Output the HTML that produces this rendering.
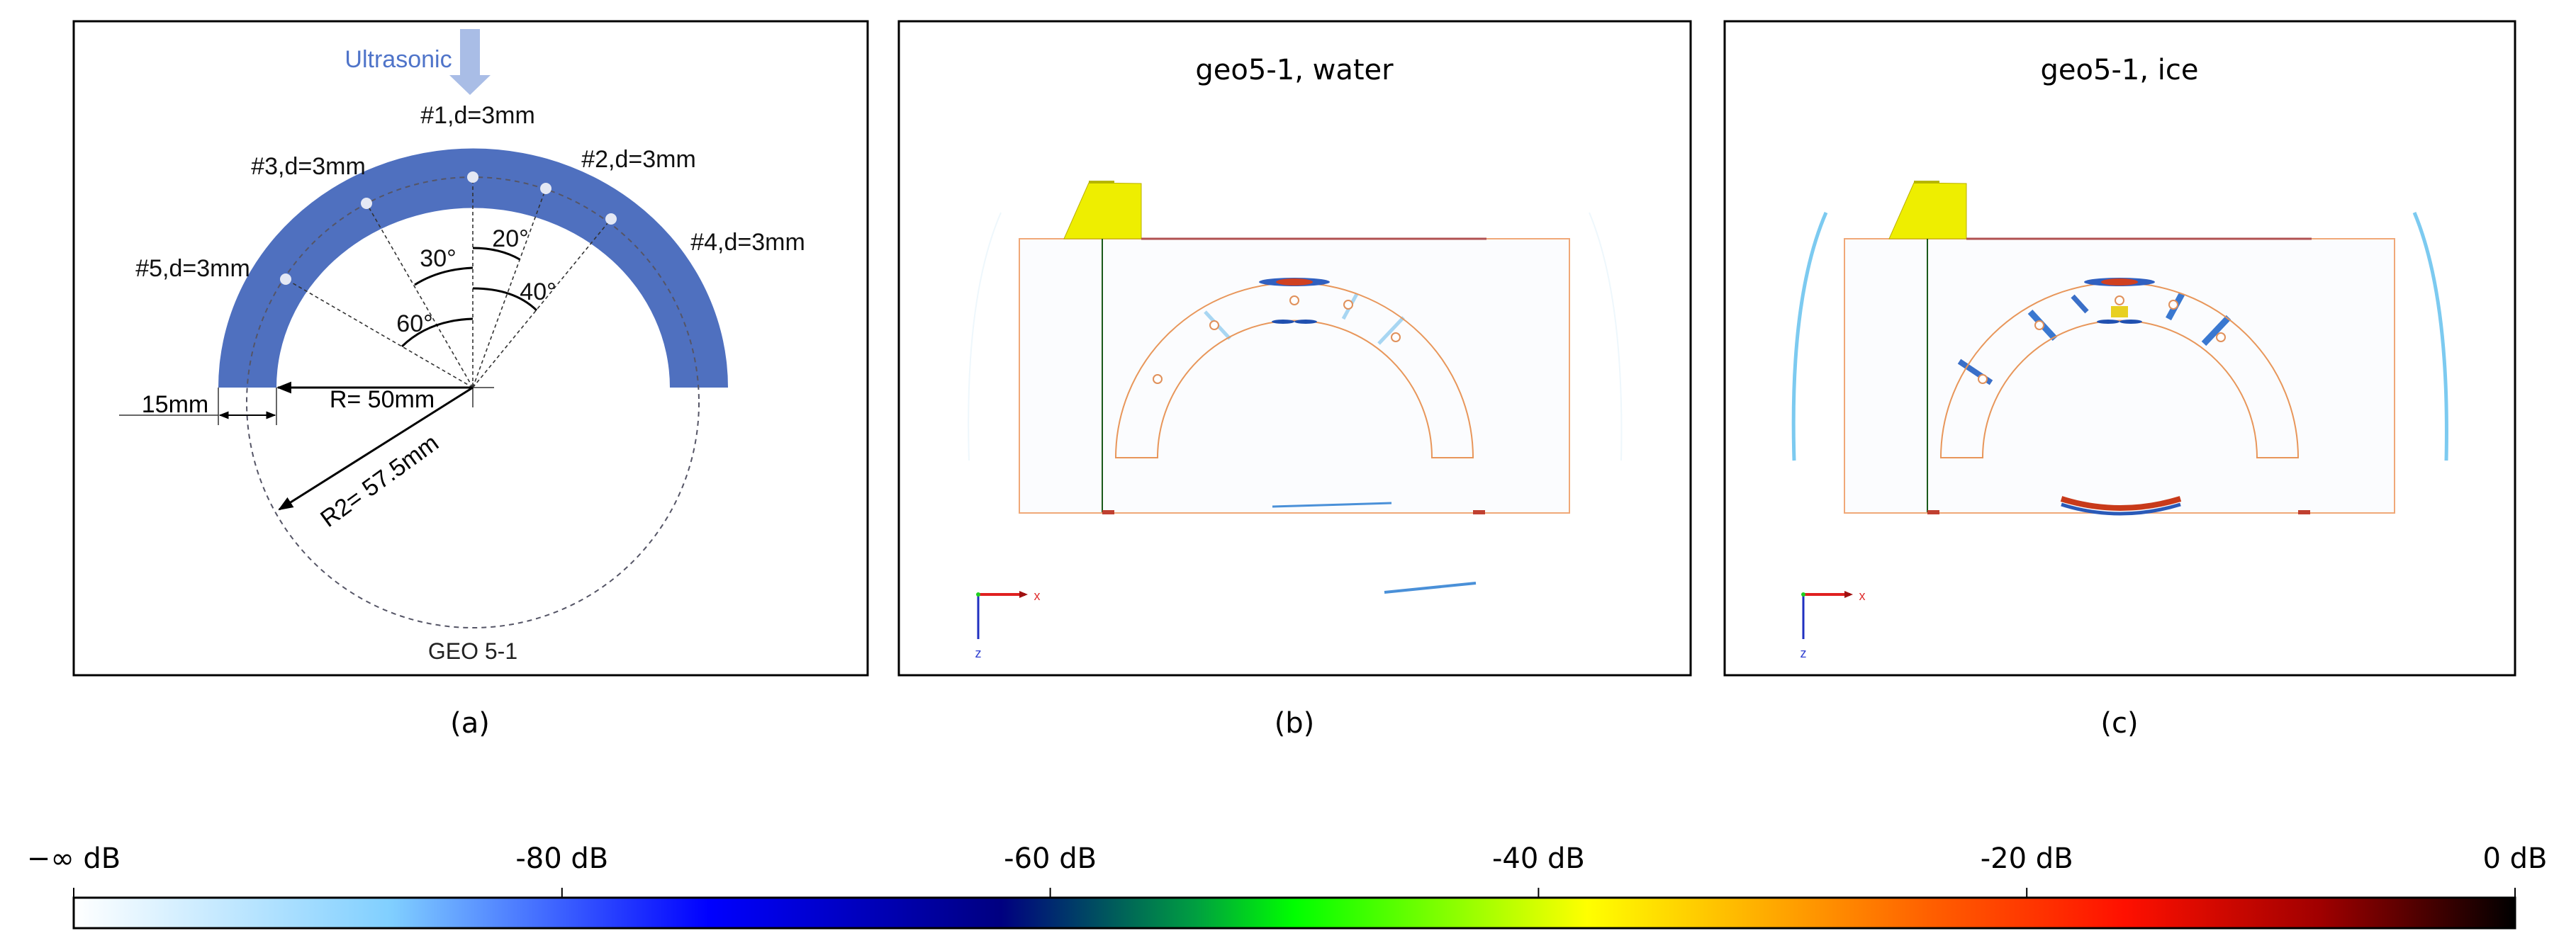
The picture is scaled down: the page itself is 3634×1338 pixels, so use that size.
<!DOCTYPE html>
<html><head><meta charset="utf-8">
<style>
html,body{margin:0;padding:0;background:#fff;}
svg{display:block;}
.a{font-family:"Liberation Sans","Noto Sans CJK SC",sans-serif;}
.d{font-family:"DejaVu Sans","Liberation Sans",sans-serif;}
</style></head>
<body>
<svg id="fig" width="3634" height="1338" viewBox="0 0 3634 1338" xmlns="http://www.w3.org/2000/svg">
<defs>
<linearGradient id="cmap" x1="0" x2="1" y1="0" y2="0"></linearGradient>
<marker id="ah" viewBox="0 0 10 10" refX="9" refY="5" markerWidth="7" markerHeight="7" orient="auto-start-reverse"><path d="M0,1 L10,5 L0,9 z" fill="#000"/></marker>
</defs>

<!-- Panel (a) -->
<g>
<rect x="104" y="30" width="1120" height="923" fill="#fff" stroke="#000" stroke-width="3"/>
<rect x="649" y="41" width="28" height="70" fill="#a9bde6"/>
<polygon points="634,106 692,106 663,134" fill="#a9bde6"/>
<text x="562" y="95" class="a" font-size="34" fill="#4f74c9" text-anchor="middle">Ultrasonic</text>
<path d="M308,547 A359,337 0 0 1 1027,547 L945,547 A277,253 0 0 0 390,547 Z" fill="#4f70bf"/>
<ellipse cx="667" cy="568" rx="319" ry="318" fill="none" stroke="#556" stroke-width="2" stroke-dasharray="7,6"/>
<g stroke="#333" stroke-width="1.6" stroke-dasharray="5,4" fill="none">
<line x1="667" y1="547" x2="667" y2="250"/>
<line x1="667" y1="547" x2="770" y2="266"/>
<line x1="667" y1="547" x2="862" y2="309"/>
<line x1="667" y1="547" x2="517" y2="287"/>
<line x1="667" y1="547" x2="403" y2="394"/>
</g>
<g fill="#e4e8f4">
<circle cx="667" cy="250" r="8"/><circle cx="770" cy="266" r="8"/><circle cx="862" cy="309" r="8"/><circle cx="517" cy="287" r="8"/><circle cx="403" cy="394" r="8"/>
</g>
<g fill="none" stroke="#000" stroke-width="3">
<path d="M667,378 Q620,380 585,402"/>
<path d="M667,350 Q705,350 733,366"/>
<path d="M667,407 Q725,407 757,438"/>
<path d="M667,450 Q605,452 567,489"/>
</g>
<g class="a" font-size="34" fill="#111" text-anchor="middle">
<text x="674" y="174">#1,d=3mm</text>
<text x="435" y="246">#3,d=3mm</text>
<text x="901" y="236">#2,d=3mm</text>
<text x="1055" y="353">#4,d=3mm</text>
<text x="272" y="390">#5,d=3mm</text>
<text x="618" y="376">30°</text>
<text x="720" y="348">20°</text>
<text x="759" y="423">40°</text>
<text x="585" y="468">60°</text>
</g>
<line x1="667" y1="547" x2="392" y2="547" stroke="#000" stroke-width="3" marker-end="url(#ah)"/>
<line x1="667" y1="547" x2="697" y2="547" stroke="#333" stroke-width="1.5"/>
<line x1="667" y1="540" x2="667" y2="575" stroke="#333" stroke-width="1.5"/>
<text x="539" y="575" class="a" font-size="34" text-anchor="middle">R= 50mm</text>
<line x1="308" y1="547" x2="308" y2="600" stroke="#333" stroke-width="1.5"/>
<line x1="390" y1="547" x2="390" y2="600" stroke="#333" stroke-width="1.5"/>
<line x1="168" y1="586" x2="308" y2="586" stroke="#333" stroke-width="1.5"/>
<line x1="310" y1="586" x2="388" y2="586" stroke="#000" stroke-width="2" marker-start="url(#ah)" marker-end="url(#ah)"/>
<text x="247" y="582" class="a" font-size="34" text-anchor="middle">15mm</text>
<line x1="667" y1="547" x2="394" y2="719" stroke="#000" stroke-width="3" marker-end="url(#ah)"/>
<text x="535" y="690" class="a" font-size="34" text-anchor="middle" transform="rotate(-36 535 678)">R2= 57.5mm</text>
<text x="667" y="930" class="a" font-size="32" text-anchor="middle" fill="#222">GEO 5-1</text>
</g>

<!-- Panel (b) -->
<g>
<rect x="1268" y="30" width="1117" height="923" fill="#fff" stroke="#000" stroke-width="3"/>
<text x="1826" y="112" class="d" font-size="40" text-anchor="middle">geo5-1, water</text>
<g id="simB"></g>
</g>

<!-- Panel (c) -->
<g>
<rect x="2433" y="30" width="1115" height="923" fill="#fff" stroke="#000" stroke-width="3"/>
<text x="2990" y="112" class="d" font-size="40" text-anchor="middle">geo5-1, ice</text>
<g id="simC"></g>
</g>

<g class="d" font-size="40" text-anchor="middle">
<text x="663" y="1034">(a)</text>
<text x="1826" y="1034">(b)</text>
<text x="2990" y="1034">(c)</text>
</g>

<g id="cbar"></g>
</svg>
<script>
const tickLabels = ["\u2212\u221e dB","-80 dB","-60 dB","-40 dB","-20 dB","0 dB"];
const tickValues = [-100,-80,-60,-40,-20,0];
const stopOffsets = [0,0.13,0.26,0.38,0.46,0.5,0.62,0.76,0.84,0.92,1];
const stopColors = ["#ffffff","#80cfff","#0000ff","#000080","#00a040","#00ff00","#ffff00","#ff6000","#ff1000","#a00000","#000000"];

const NS="http://www.w3.org/2000/svg";
function mk(tag,attrs,parent){const e=document.createElementNS(NS,tag);for(const k in attrs)e.setAttribute(k,attrs[k]);parent.appendChild(e);return e;}

// colorbar
const grad=document.getElementById('cmap');
stopOffsets.forEach((o,i)=>{mk('stop',{offset:o,'stop-color':stopColors[i]},grad);});
const cb=document.getElementById('cbar');
const x0=104,x1=3548,y0=1267,y1=1310;
const xs=v=>x0+(v-tickValues[0])/(tickValues[tickValues.length-1]-tickValues[0])*(x1-x0);
const bar=mk('rect',{x:x0,y:y0,width:x1-x0,height:y1-y0,fill:'url(#cmap)',stroke:'#000','stroke-width':3},cb);


tickValues.forEach((v,i)=>{
  const t=mk('line',{x1:xs(v),x2:xs(v),y1:1253,y2:y0,stroke:'#000','stroke-width':2},cb);
  
  
  const l=mk('text',{x:xs(v),y:1225,'font-size':40,'text-anchor':'middle','class':'d'},cb);
  l.textContent=tickLabels[i];
  
  
});

// simulation panels
function sim(g,dx,ice){
  mk('rect',{x:1438+dx,y:337,width:776,height:387,fill:'#fbfcfe',stroke:'#f0a878','stroke-width':2},g);
  mk('polygon',{points:`${1501+dx},337 ${1536+dx},258 ${1610+dx},259 ${1610+dx},337`,fill:'#eeee00',stroke:'#bbb000','stroke-width':1},g);
  mk('rect',{x:1536+dx,y:255,width:36,height:4,fill:'#b5b500'},g);
  mk('line',{x1:1610+dx,y1:337,x2:2097+dx,y2:337,stroke:'#b05050','stroke-width':3},g);
  mk('line',{x1:1555+dx,y1:337,x2:1555+dx,y2:723,stroke:'#1a5a1a','stroke-width':2},g);
  // outer faint arcs
  mk('path',{d:`M${1412+dx},300 Q${1360+dx},420 ${1367+dx},650`,fill:'none',stroke:ice?'#7ccaf0':'#eef7fc','stroke-width':ice?5:2},g);
  mk('path',{d:`M${2242+dx},300 Q${2292+dx},420 ${2287+dx},650`,fill:'none',stroke:ice?'#7ccaf0':'#eef7fc','stroke-width':ice?5:2},g);
  // wave fronts inside arch
  const wc=ice?'#3a78d0':'#a8d6f2';
  const ww=ice?9:5;
  mk('line',{x1:1700+dx,y1:440,x2:1735+dx,y2:478,stroke:wc,'stroke-width':ww},g);
  mk('line',{x1:1980+dx,y1:448,x2:1945+dx,y2:485,stroke:wc,'stroke-width':ww},g);
  mk('line',{x1:1914+dx,y1:415,x2:1895+dx,y2:450,stroke:wc,'stroke-width':ww},g);
  if(ice){mk('line',{x1:1600+dx,y1:510,x2:1645+dx,y2:540,stroke:'#3a6fc8','stroke-width':8},g);
    mk('line',{x1:1760+dx,y1:418,x2:1780+dx,y2:440,stroke:'#3a6fc8','stroke-width':7},g);
    mk('path',{d:`M${1744+dx},704 Q${1826+dx},730 ${1912+dx},704`,fill:'none',stroke:'#c83a1a','stroke-width':8},g);
    mk('path',{d:`M${1744+dx},712 Q${1826+dx},738 ${1912+dx},712`,fill:'none',stroke:'#2a5ab8','stroke-width':5},g);
    mk('rect',{x:1814+dx,y:432,width:24,height:16,fill:'#e8d020'},g);
  }
  // arch
  mk('path',{d:`M${1574+dx},646 A252,247 0 0 1 ${2078+dx},646 L${2020+dx},646 A193,193 0 0 0 ${1633+dx},646 Z`,fill:'none',stroke:'#e8965a','stroke-width':2},g);
  // top focus
  mk('ellipse',{cx:1826+dx,cy:398,rx:50,ry:6,fill:'#3060c0'},g);
  mk('ellipse',{cx:1826+dx,cy:398,rx:26,ry:5,fill:'#d04020'},g);
  mk('ellipse',{cx:1810+dx,cy:454,rx:16,ry:3,fill:'#2050b0'},g);
  mk('ellipse',{cx:1842+dx,cy:454,rx:16,ry:3,fill:'#2050b0'},g);
  // holes
  [[1826,424],[1902,430],[1713,459],[1969,476],[1633,535]].forEach(p=>mk('circle',{cx:p[0]+dx,cy:p[1],r:6,fill:'#fff',stroke:'#e0905a','stroke-width':2},g));
  // bottom corners
  mk('rect',{x:1555+dx,y:720,width:17,height:6,fill:'#c04030'},g);
  mk('rect',{x:2078+dx,y:720,width:17,height:6,fill:'#c04030'},g);
  if(!ice){mk('line',{x1:1795+dx,y1:715,x2:1963+dx,y2:710,stroke:'#4a90d8','stroke-width':3},g);
    mk('line',{x1:1953+dx,y1:836,x2:2082+dx,y2:823,stroke:'#4a90d8','stroke-width':4},g);}
  // axis glyph
  mk('line',{x1:1380+dx,y1:839,x2:1446+dx,y2:839,stroke:'#e02020','stroke-width':4},g);
  mk('polygon',{points:`${1438+dx},834 ${1450+dx},839 ${1438+dx},844`,fill:'#a01010'},g);
  mk('line',{x1:1380+dx,y1:839,x2:1380+dx,y2:902,stroke:'#2030c0','stroke-width':3},g);
  mk('circle',{cx:1380+dx,cy:839,r:3,fill:'#20d020'},g);
  const tx=mk('text',{x:1463+dx,y:847,'font-size':18,fill:'#e03030','class':'a','text-anchor':'middle'},g);tx.textContent='x';
  const tz=mk('text',{x:1380+dx,y:928,'font-size':18,fill:'#3040d0','class':'a','text-anchor':'middle'},g);tz.textContent='z';
}
sim(document.getElementById('simB'),0,false);
sim(document.getElementById('simC'),1164,true);
</script>
</body></html>
